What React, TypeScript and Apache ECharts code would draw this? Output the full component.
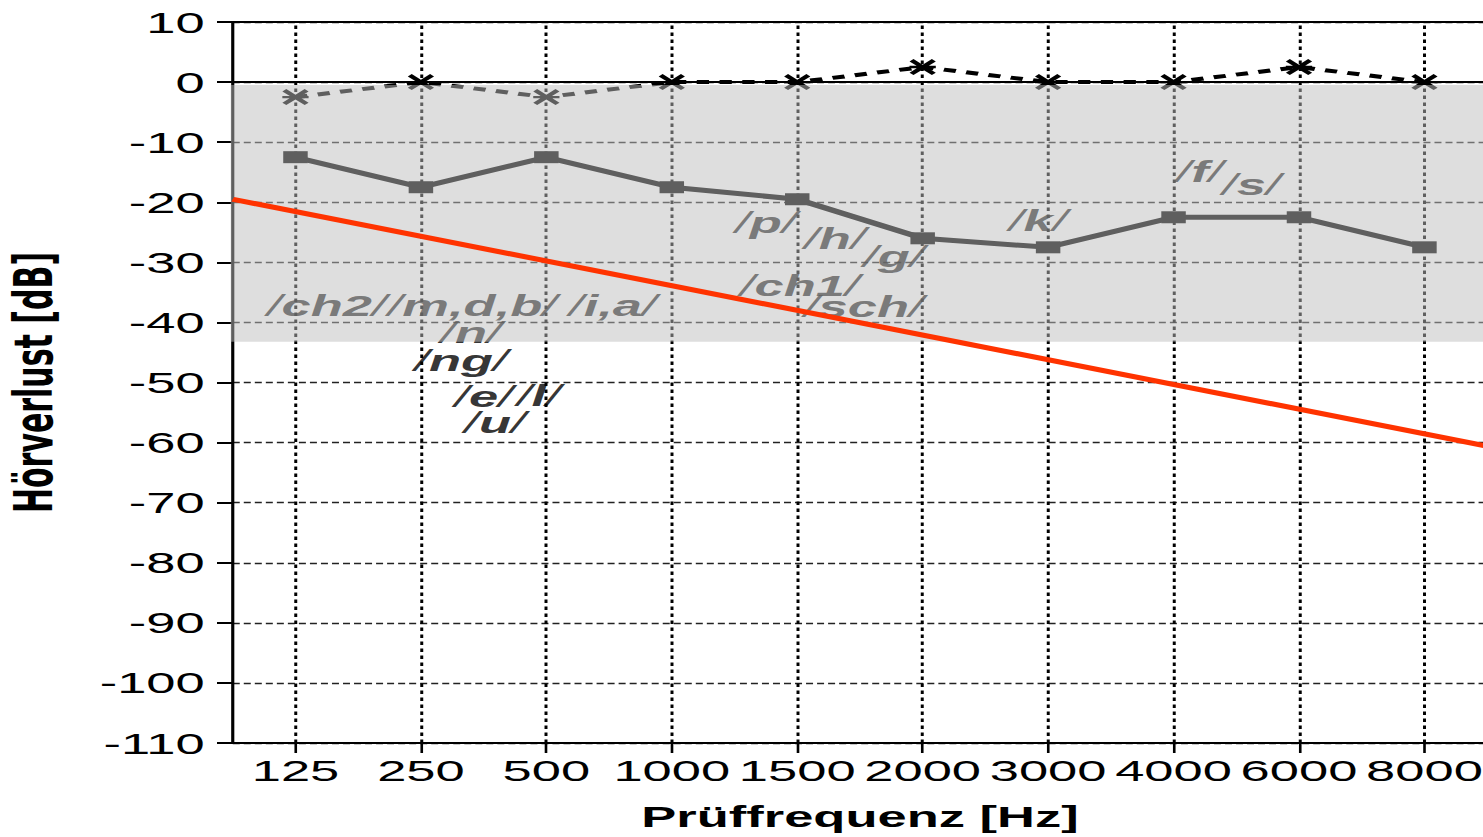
import React, { useEffect, useRef } from 'react';
import * as echarts from 'echarts';

// ---- data ----
const frequencies = ['125', '250', '500', '1000', '1500', '2000', '3000', '4000', '6000', '8000'];
const solidLineDb = [-12.5, -17.5, -12.5, -17.5, -19.5, -26, -27.5, -22.5, -22.5, -27.5];
const dashedLineDb = [-2.5, 0, -2.5, 0, 0, 2.5, 0, 0, 2.5, 0];
const redLineX = [-0.5, 9.5];
const redLineDb = [-19.5, -60.6];
const bandDb = [-0.5, -43.2];
const phonemes = ['ch2', 'm,d,b', 'i,a', 'n', 'ng', 'e', 'l', 'u', 'p', 'h', 'g', 'ch1', 'sch', 'k', 'f', 's'];
const phonemeX = [0.25, 1.41, 2.53, 1.4, 1.32, 1.5, 1.94, 1.59, 3.75, 4.3, 4.77, 4.02, 4.53, 5.92, 7.21, 7.62];
const phonemeDb = [-37.1, -37.1, -37.1, -41.6, -46.3, -52.4, -52.1, -56.6, -23.3, -26.0, -29.0, -33.8, -37.4, -23.1, -14.8, -17.1];
const refLinesDb = [0, 10];

const STRETCH = 1.75;
const INNER_W = 851;
const H = 837;
const FONT = 'Liberation Sans';

const crossPath =
  'path://M0,3 L3,0 L10,7 L17,0 L20,3 L13,10 L20,17 L17,20 L10,13 L3,20 L0,17 L7,10 Z M0,8.5 L20,8.5 L20,11.5 L0,11.5 Z';

export default function App() {
  const ref = useRef<HTMLDivElement>(null);

  useEffect(() => {
    if (!ref.current) return;
    const chart = echarts.init(ref.current, undefined, { renderer: 'svg' });
    const option: any = {
      animation: false,
      backgroundColor: '#fff',
      grid: { left: 133, right: 1.2, top: 22, bottom: 94, containLabel: false, outerBoundsMode: 'none' },
      xAxis: [
        {
          type: 'category',
          data: frequencies,
          boundaryGap: true,
          axisLine: { show: true, onZero: false, lineStyle: { color: '#000', width: 2 } },
          axisTick: { show: true, alignWithLabel: true, length: 10, lineStyle: { color: '#000', width: 1.5 } },
          axisLabel: { interval: 0, margin: 12, fontSize: 30, color: '#000', fontFamily: FONT, hideOverlap: false },
          splitLine: { show: false },
          name: 'Prüffrequenz [Hz]',
          nameLocation: 'middle',
          nameGap: 58,
          nameTextStyle: { fontSize: 30, fontWeight: 'bold', color: '#000', fontFamily: FONT },
        },
        { type: 'value', min: -0.5, max: 9.5, show: false, axisLine: { onZero: false }, splitLine: { show: false } },
      ],
      yAxis: {
        type: 'value',
        min: -110,
        max: 10,
        interval: 10,
        axisLine: { show: true, onZero: false, lineStyle: { color: '#000', width: 1.8 } },
        axisTick: { show: true, length: 9, lineStyle: { color: '#000', width: 2 } },
        axisLabel: { margin: 16, fontSize: 30, color: '#000', fontFamily: FONT },
        splitLine: { show: true, lineStyle: { color: '#222', width: 1.3, type: [4, 2.3] } },
        name: 'Hörverlust [dB]',
        nameLocation: 'middle',
        nameGap: 99,
        nameRotate: 90,
        nameTextStyle: { fontSize: 30, fontWeight: 'bold', color: '#000', fontFamily: 'DejaVu Sans' },
      },
      series: [
        {
          type: 'line',
          data: solidLineDb,
          xAxisIndex: 0,
          z: 2,
          symbol: 'rect',
          symbolSize: [14, 12],
          itemStyle: { color: '#000', borderWidth: 0 },
          lineStyle: { color: '#000', width: 5 },
          silent: true,
          markLine: {
            silent: true,
            symbol: ['none', 'none'],
            label: { show: false },
            lineStyle: { color: '#000', type: [3.5, 3.5], width: 1.7 },
            emphasis: { disabled: true },
            data: frequencies.map((f) => ({ xAxis: f })),
          },
        },
        {
          type: 'line',
          data: dashedLineDb,
          xAxisIndex: 0,
          z: 2,
          symbol: crossPath,
          symbolSize: [15, 16],
          itemStyle: { color: '#000', borderWidth: 0 },
          lineStyle: { color: '#000', width: 4, type: [7, 6] },
          silent: true,
          markLine: {
            silent: true,
            symbol: ['none', 'none'],
            label: { show: false },
            lineStyle: { color: '#000', type: 'solid', width: 2 },
            emphasis: { disabled: true },
            data: refLinesDb.map((v) => ({ yAxis: v })),
          },
        },
        {
          type: 'scatter',
          xAxisIndex: 1,
          z: 3,
          silent: true,
          symbolSize: 0,
          data: phonemeX.map((x, i) => [x, phonemeDb[i], phonemes[i]]),
          labelLayout: { hideOverlap: false },
          label: {
            show: true,
            position: 'inside',
            formatter: (p: any) => `{sl|/}{t|${p.value[2]}}{sl|/}`,
            rich: {
              sl: { fontSize: 30, fontStyle: 'italic', fontWeight: 'normal', color: '#000', fontFamily: FONT },
              t: { fontSize: 30, fontStyle: 'italic', fontWeight: 'bold', color: '#000', fontFamily: FONT },
            },
          },
        },
        {
          type: 'custom',
          xAxisIndex: 1,
          z: 8,
          silent: true,
          data: [[0, bandDb[0], bandDb[1]]],
          encode: { x: 0, y: [1, 2] },
          renderItem: (params: any, api: any) => {
            const top = api.coord([0, api.value(1)])[1];
            const bottom = api.coord([0, api.value(2)])[1];
            const cs = params.coordSys;
            return {
              type: 'rect',
              shape: { x: cs.x - 1.2, y: top, width: cs.width + 2, height: bottom - top },
              style: { fill: 'rgba(189,189,189,0.5)' },
            };
          },
        },
        {
          type: 'line',
          xAxisIndex: 1,
          z: 10,
          silent: true,
          symbol: 'none',
          data: redLineX.map((x, i) => [x, redLineDb[i]]),
          lineStyle: { color: '#ff3300', width: 5 },
        },
      ],
    };
    chart.setOption(option);
    return () => chart.dispose();
  }, []);

  return (
    <div
      style={{
        position: 'fixed',
        left: 0,
        top: 0,
        width: 1483,
        height: H,
        overflow: 'hidden',
        background: '#fff',
      }}
    >
      <div
        ref={ref}
        style={{ width: INNER_W, height: H, transform: `scaleX(${STRETCH})`, transformOrigin: '0 0' }}
      />
    </div>
  );
}
